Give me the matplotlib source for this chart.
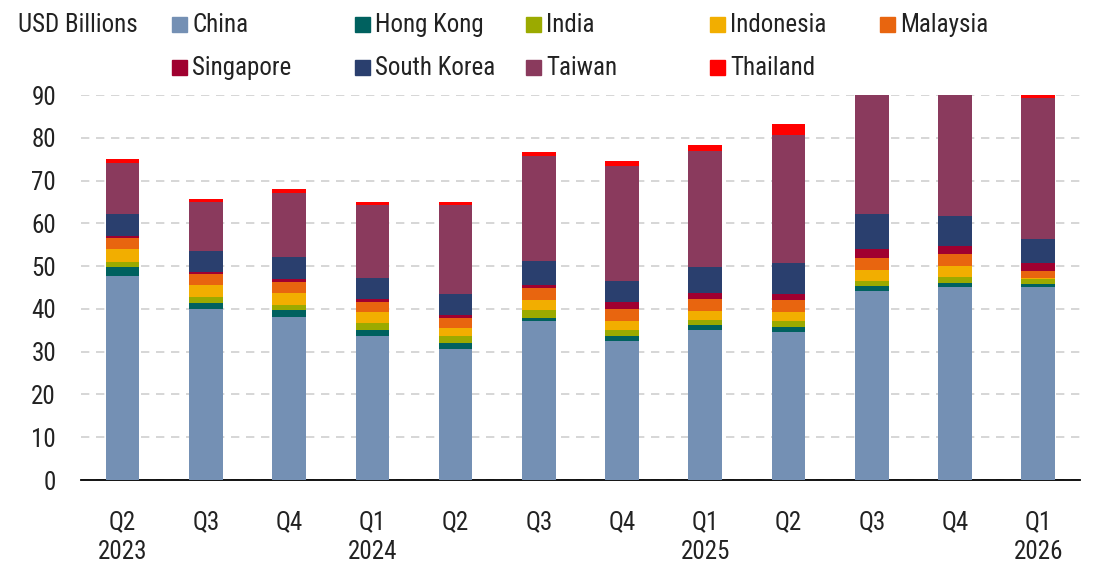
import numpy as np
import matplotlib

matplotlib.use('Agg')
import matplotlib.pyplot as plt
from matplotlib.patches import Rectangle
from matplotlib import font_manager

avail = set(f.name for f in font_manager.fontManager.ttflist)
fams = [f for f in ['Roboto Condensed', 'Liberation Sans Narrow', 'DejaVu Sans Condensed'] if f in avail]
plt.rcParams['font.family'] = fams + ['DejaVu Sans']
plt.rcParams['font.stretch'] = 'condensed'
plt.rcParams['font.size'] = 18

quarters = ['Q2\n2023', 'Q3', 'Q4', 'Q1\n2024', 'Q2', 'Q3', 'Q4',
            'Q1\n2025', 'Q2', 'Q3', 'Q4', 'Q1\n2026']

china = [47.8, 40.0, 38.1, 33.7, 30.6, 37.2, 32.5, 35.1, 34.7, 44.1, 45.1, 45.1]
hong_kong = [1.9, 1.3, 1.6, 1.4, 1.5, 0.7, 1.2, 1.1, 1.1, 1.2, 1.0, 0.8]
india = [1.3, 1.5, 1.3, 1.5, 1.6, 1.8, 1.4, 1.2, 1.4, 1.3, 1.4, 1.1]
indonesia = [3.0, 2.8, 2.7, 2.7, 1.9, 2.4, 2.1, 2.1, 2.1, 2.6, 2.5, 0.3]
malaysia = [2.5, 2.5, 2.6, 2.2, 2.3, 2.7, 2.8, 2.8, 2.8, 2.8, 2.8, 1.6]
singapore = [0.6, 0.5, 0.8, 0.7, 0.7, 0.8, 1.5, 1.5, 1.5, 2.0, 2.0, 1.9]
south_korea = [5.1, 4.9, 5.1, 5.1, 4.9, 5.6, 5.1, 5.9, 7.1, 8.2, 6.9, 5.5]
taiwan = [11.9, 11.4, 15.0, 17.0, 20.8, 24.5, 26.8, 27.1, 30.0, 32.0, 31.5, 32.9]
thailand = [0.9, 0.8, 0.8, 0.8, 0.8, 1.0, 1.2, 1.4, 2.6, 2.0, 2.0, 1.3]

names = ['China', 'Hong Kong', 'India', 'Indonesia', 'Malaysia',
         'Singapore', 'South Korea', 'Taiwan', 'Thailand']
series = [china, hong_kong, india, indonesia, malaysia,
          singapore, south_korea, taiwan, thailand]
colors = ['#7490B4', '#00615F', '#9BAA00', '#F2AE00', '#E8650F',
          '#A00030', '#2A3F6E', '#8A3A5D', '#FF0000']

fig = plt.figure(figsize=(11.19, 5.72), dpi=100)
ax = fig.add_axes([0.0724, 0.1608, 0.8927, 0.6731])

x = np.arange(len(quarters))
bottom = np.zeros(len(quarters))
for vals, c in zip(series, colors):
    ax.bar(x, vals, width=0.405, bottom=bottom, color=c, zorder=3)
    bottom += np.array(vals)

ax.set_xlim(-0.5, len(quarters) - 0.5)
ax.set_ylim(0, 90)
ax.set_yticks(np.arange(0, 91, 10))
ax.set_xticks(x)
ax.set_xticklabels(quarters, linespacing=1.3)
ax.yaxis.grid(True, linestyle=(0, (5, 4)), color='#d0d0d0', linewidth=1.2, zorder=0)
for s in ['top', 'right', 'left']:
    ax.spines[s].set_visible(False)
ax.spines['bottom'].set_linewidth(1.3)
ax.tick_params(axis='both', length=0, labelsize=18, colors='#222222')
ax.tick_params(axis='x', pad=22)
ax.tick_params(axis='y', pad=18)

# legend laid out by hand in two rows
W, H = 1119.0, 572.0
fig.text(18 / W, 1 - 25 / H, 'USD Billions', fontsize=18, va='center', ha='left', color='#222222')
col_x = [172, 355, 526, 710, 880]
row_y = [25, 68]
for i, (n, c) in enumerate(zip(names, colors)):
    r, k = divmod(i, 5)
    sx, sy = col_x[k], row_y[r]
    fig.patches.append(Rectangle((sx / W, 1 - (sy + 7) / H), 15 / W, 15 / H,
                                 transform=fig.transFigure, color=c))
    fig.text((sx + 20) / W, 1 - sy / H, n, fontsize=18, va='center', ha='left', color='#222222')

fig.savefig('out.png', dpi=100)
